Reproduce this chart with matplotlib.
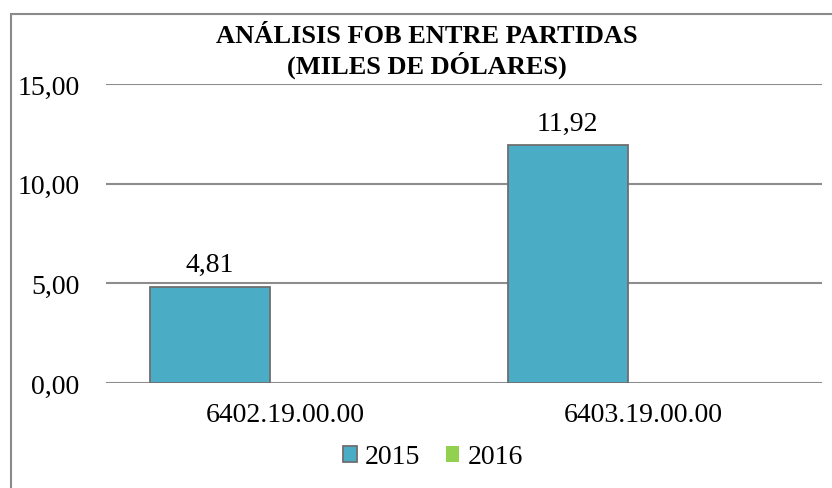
import matplotlib.pyplot as plt
from matplotlib.patches import Patch, Rectangle
import numpy as np

# Data
partidas = ['6402.19.00.00', '6403.19.00.00']
fob_2015 = [4.81, 11.92]
fob_2016 = [0.0, 0.0]
y_ticks = [0, 5, 10, 15]

c2015 = '#4BACC6'
c2016 = '#92D050'
grid_c = '#8C8C8C'

plt.rcParams['font.family'] = ['Liberation Serif', 'DejaVu Serif']

fig = plt.figure(figsize=(8.32, 4.89), dpi=100)
ax = fig.add_axes([106 / 832, 1 - 384 / 489, 716 / 832, 299 / 489])

x = np.arange(len(partidas))
w = 0.335
b1 = ax.bar(x - 0.21, fob_2015, w, color=c2015, edgecolor='#6E6E6E', linewidth=1.3, zorder=3)
ax.bar(x + 0.125, fob_2016, w, color=c2016, linewidth=0, zorder=3)

# value labels
for rect, v in zip(b1, fob_2015):
    ax.annotate(f'{v:.2f}'.replace('.', ','), (rect.get_x() + rect.get_width() / 2, v),
                xytext=(0, 7), textcoords='offset points', ha='center', va='bottom', fontsize=20)

ax.set_xlim(-0.5, 1.5)
ax.set_ylim(0, 15)
ax.set_yticks(y_ticks)
ax.set_yticklabels([f'{t:.2f}'.replace('.', ',') for t in y_ticks], fontsize=20)
ax.set_xticks(x)
ax.set_xticklabels(partidas, fontsize=20)
ax.tick_params(axis='y', length=0, pad=19)
ax.tick_params(axis='x', length=0, pad=14)
ax.grid(axis='y', color=grid_c, linewidth=1.5, zorder=0)
for s in ax.spines.values():
    s.set_visible(False)
ax.set_axisbelow(True)

# title
fig.text(427 / 832, 1 - 52 / 489, 'ANÁLISIS FOB ENTRE PARTIDAS\n(MILES DE DÓLARES)',
         ha='center', va='center', fontsize=19, fontweight='bold', linespacing=1.2)

# legend
handles = [Patch(facecolor=c2015, edgecolor='#6E6E6E', linewidth=1.3, label='2015'),
           Patch(facecolor=c2016, edgecolor='none', label='2016')]
fig.legend(handles=handles, loc='center', bbox_to_anchor=(433 / 832, 1 - 458 / 489), ncol=2,
           frameon=False, fontsize=20, handlelength=0.5, handleheight=0.5,
           handletextpad=0.3, columnspacing=0.9)

# chart border (cut off at right/bottom)
fig.patches.append(Rectangle((11 / 832, -0.1), 1.2, 1 - 15 / 489 + 0.1, transform=fig.transFigure,
                             fill=False, edgecolor='#8A8A8A', linewidth=1.5))

fig.savefig('out.png', dpi=100)
